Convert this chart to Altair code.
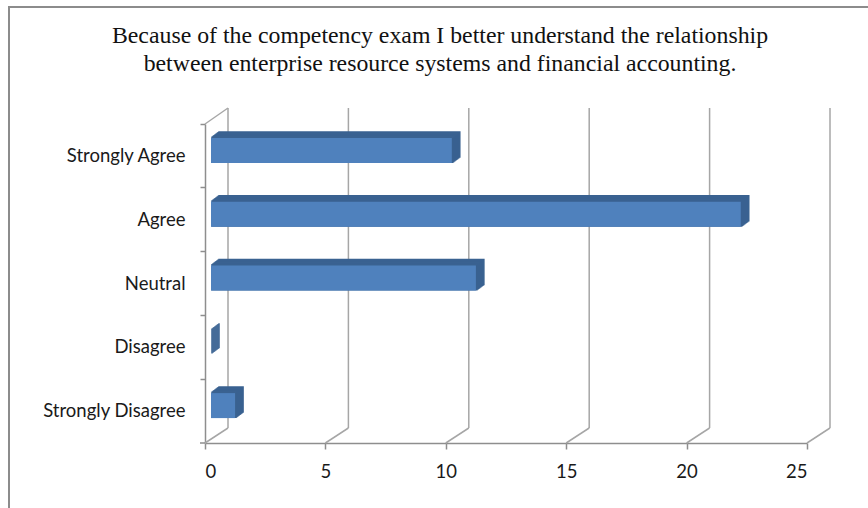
import altair as alt
import pandas as pd

# Survey responses
categories = ["Strongly Agree", "Agree", "Neutral", "Disagree", "Strongly Disagree"]
counts = [10, 22, 11, 0, 1]
x_ticks = [0, 5, 10, 15, 20, 25]
title_lines = [
    "Because of the competency exam I better understand the relationship",
    "between enterprise resource systems and financial accounting.",
]

# Plot area and pseudo-3D geometry (pixels)
W, H = 602, 319
WALL_DX, WALL_DY = 23, 15        # depth of the back wall / floor
FRONT_DX, FRONT_DY = 6, -5.5     # bar front face offset from the front plane
BAR_DX, BAR_DY = 8, 6            # bar depth
BAR_SIZE = 25
STEPS = 8

FRONT = "#4f81bd"
DARK = "#3a6291"
GRID = "#a6a6a6"
AXIS = "#8e8e8e"
FRAME = "#8c8c8c"
LABEL_FONT = "Lato"

bars_df = pd.DataFrame({"category": categories, "count": counts})
ticks_df = pd.DataFrame({"tick": x_ticks})
one_row = pd.DataFrame({"k": [0]})

x_scale = alt.Scale(domain=[0, 25], nice=False, zero=True)
y_scale = alt.Scale(domain=categories, paddingInner=0, paddingOuter=0)

y_axis = alt.Axis(
    title=None, bandPosition=0,
    domainColor=AXIS, domainWidth=1.5, tickColor=AXIS, tickWidth=1.5, tickSize=5,
    labelPadding=15, labelFont=LABEL_FONT, labelFontSize=18.5, labelColor="#1a1a1a",
    grid=False,
)
x_axis = alt.Axis(
    title=None, values=x_ticks, grid=False,
    domainColor=AXIS, domainWidth=1.5, tickColor=AXIS, tickWidth=1.5, tickSize=6,
    labelPadding=13, labelFont=LABEL_FONT, labelFontSize=18.5, labelColor="#1a1a1a",
)

X_TICK = alt.X("tick:Q", scale=x_scale, axis=x_axis)
X_COUNT = alt.X("count:Q", scale=x_scale, axis=x_axis)
Y_CAT = alt.Y("category:N", scale=y_scale, sort=categories, axis=y_axis)

# Back-wall gridlines
grid = alt.Chart(ticks_df).mark_rule(color=GRID, strokeWidth=1.5, xOffset=WALL_DX).encode(
    x=X_TICK,
    y=alt.value(-WALL_DY - 1),
    y2=alt.value(H - WALL_DY),
)

# Floor diagonals joining front ticks to the back wall
floor = alt.Chart(ticks_df).mark_rule(color=GRID, strokeWidth=1.5, x2Offset=WALL_DX).encode(
    x=X_TICK,
    x2="tick:Q",
    y=alt.value(H),
    y2=alt.value(H - WALL_DY),
)

# Top edge of the side wall
wall_top = alt.Chart(one_row).mark_rule(color=GRID, strokeWidth=1.5).encode(
    x=alt.value(0), x2=alt.value(WALL_DX), y=alt.value(0), y2=alt.value(-WALL_DY - 1)
)

# Closing tick at the bottom of the category axis
bottom_tick = alt.Chart(one_row).mark_rule(color=AXIS, strokeWidth=1.5).encode(
    x=alt.value(-5), x2=alt.value(0), y=alt.value(H), y2=alt.value(H)
)

# Chart frame: thin filled strips along the left and top edges
frame_left = alt.Chart(one_row).mark_rect(color=FRAME).encode(
    x=alt.value(-197), x2=alt.value(-195), y=alt.value(-118), y2=alt.value(H + 70)
)
frame_top = alt.Chart(one_row).mark_rect(color=FRAME).encode(
    x=alt.value(-197), x2=alt.value(W + 70), y=alt.value(-118), y2=alt.value(-116)
)

bar_base = alt.Chart(bars_df).encode(y=Y_CAT, x=X_COUNT)

# Bar depth: stacked shifted copies form the top and side faces
depth_layers = []
for k in range(STEPS, 0, -1):
    ox = FRONT_DX + BAR_DX * k / STEPS
    oy = FRONT_DY - BAR_DY * k / STEPS
    depth_layers.append(
        bar_base.mark_bar(
            size=BAR_SIZE, color=DARK, stroke=DARK, strokeWidth=1.5,
            xOffset=ox, x2Offset=ox, yOffset=oy, y2Offset=oy,
        )
    )

front = bar_base.mark_bar(
    size=BAR_SIZE, color=FRONT,
    xOffset=FRONT_DX, x2Offset=FRONT_DX, yOffset=FRONT_DY, y2Offset=FRONT_DY,
)

title = alt.Chart(one_row).mark_text(
    text=title_lines, font="Liberation Serif", fontSize=23.8, lineHeight=28,
    align="center", baseline="alphabetic", color="#111111",
).encode(x=alt.value(235), y=alt.value(-81))

chart = alt.layer(
    grid, floor, wall_top, bottom_tick, frame_left, frame_top,
    *depth_layers, front, title,
).properties(
    width=W, height=H,
    autosize=alt.AutoSizeParams(type="none"),
    padding={"left": 205, "top": 124, "right": 61, "bottom": 65},
    background="white",
).configure_view(stroke="transparent")

chart.save("out.html", embed_options={"renderer": "svg", "actions": False})
